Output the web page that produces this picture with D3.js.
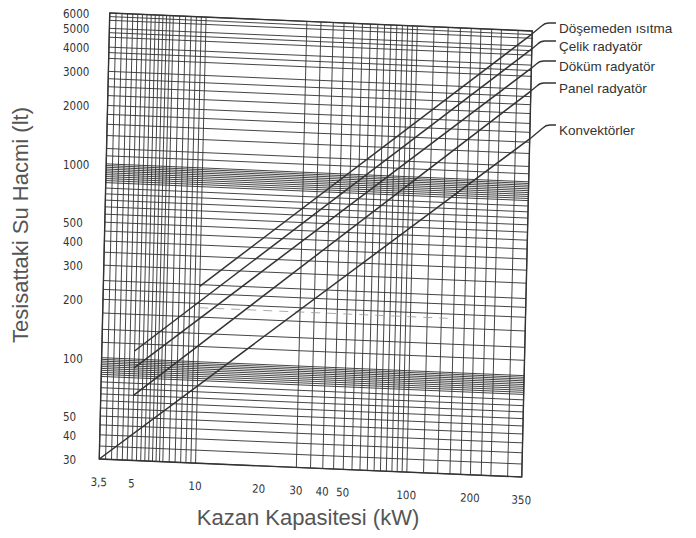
<!DOCTYPE html>
<html><head><meta charset="utf-8">
<script src="https://cdn.jsdelivr.net/npm/d3@7"></script>
<style>
html,body{margin:0;padding:0;background:#fff;}
svg{display:block;}
</style></head>
<body>
<svg id="chart" width="696" height="538"></svg>
<script>
// ---- data ----
const xTickValues = [3.5, 5, 10, 20, 30, 40, 50, 100, 200, 350];
const xTickLabels = ["3,5", "5", "10", "20", "30", "40", "50", "100", "200", "350"];
const yTickValues = [30, 40, 50, 100, 200, 300, 400, 500, 1000, 2000, 3000, 4000, 5000, 6000];
const yTickLabels = ["30", "40", "50", "100", "200", "300", "400", "500", "1000", "2000", "3000", "4000", "5000", "6000"];
const xGridValues = [3.5,3.75,4,4.25,4.5,4.75,5,5.25,5.5,5.75,6,6.25,6.5,6.75,7,7.5,8,8.5,9,9.5,10,
  30,35,40,45,50,55,60,65,70,75,80,85,90,95,100,120,140,160,180,200,225,250,300,350];
const yGridValues = [30,35,40,45,50,55,60,65,70,75,80,82,84,86,88,90,92,94,96,98,100,
  120,140,170,200,225,250,300,350,400,450,500,550,600,650,700,750,800,820,840,860,880,900,920,940,960,980,1000,
  1100,1200,1400,1600,1800,2000,2250,2500,2750,3000,3500,3750,4000,4500,4750,5000,5500,5750,6000];
const seriesNames = ["Döşemeden ısıtma", "Çelik radyatör", "Döküm radyatör", "Panel radyatör", "Konvektörler"];
const seriesX = [[10, 350], [5, 350], [5, 350], [5, 350], [3.5, 350]];
const seriesY = [[245, 5800], [110, 4850], [90, 3860], [65, 2940], [30, 1665]];
const labelY = [28, 46, 66, 88, 130];

// ---- layout ----
const W = 422.5, H = 446;
const svg = d3.select("#chart");
const x = d3.scaleLog().domain([3.5, 350]).range([0, W]);
const y = d3.scaleLog().domain([30, 6000]).range([H, 0]);
const ink = "#333";
const tx = (px, py) => [109.75 + px - 10.5 * py / H, 13 + 18 * px / W + py];

// plot group with slight skew/rotation like the scanned original
const g = svg.append("g").attr("transform", `matrix(1,${18/W},${-10.5/H},1,109.75,13)`);

g.append("g").selectAll("line").data(xGridValues).join("line")
  .attr("x1", d => x(d)).attr("x2", d => x(d)).attr("y1", 0).attr("y2", H)
  .attr("stroke", ink).attr("stroke-width", 0.9);
g.append("g").selectAll("line").data(yGridValues).join("line")
  .attr("x1", 0).attr("x2", W).attr("y1", d => y(d)).attr("y2", d => y(d))
  .attr("stroke", ink).attr("stroke-width", 0.9);
g.append("rect").attr("x", 0).attr("y", 0).attr("width", W).attr("height", H)
  .attr("fill", "none").attr("stroke", ink).attr("stroke-width", 1.4);
// faint dashed trace seen in the scan
g.append("line").attr("x1", x(10)).attr("x2", x(150)).attr("y1", y(190)).attr("y2", y(190))
  .attr("stroke", "#999").attr("stroke-width", 0.8).attr("stroke-dasharray", "9,7");

// series
const line = d3.line().x(d => x(d[0])).y(d => y(d[1]));
seriesNames.forEach((name, i) => {
  const pts = seriesX[i].map((v, j) => [v, seriesY[i][j]]);
  g.append("path").attr("d", line(pts)).attr("fill", "none").attr("stroke", ink).attr("stroke-width", 1.5);
});

// x tick labels
g.append("g").selectAll("text").data(xTickValues).join("text")
  .attr("x", d => x(d)).attr("y", H + 27)
  .attr("text-anchor", "middle").attr("font-family", "'Liberation Sans Narrow', 'DejaVu Sans Condensed', sans-serif")
  .attr("font-size", 11.5).attr("fill", ink)
  .text((d, i) => xTickLabels[i]);

// y tick labels (outside group)
svg.append("g").selectAll("text").data(yTickValues).join("text")
  .attr("x", 63).attr("y", d => 13 + y(d) + 5)
  .attr("text-anchor", "start").attr("font-family", "'Liberation Sans Narrow', 'DejaVu Sans Condensed', sans-serif")
  .attr("font-size", 11.5).attr("fill", ink)
  .text((d, i) => yTickLabels[i]);

// leaders and labels
seriesNames.forEach((name, i) => {
  const ly = labelY[i] - 5;
  const last = [seriesX[i][1], seriesY[i][1]];
  const [px, py] = tx(x(last[0]), y(last[1]));
  const ex = px + Math.max(0, (py - ly - 3)) * 1.2;
  svg.append("path").attr("d", `M${px},${py} L${ex},${ly + 3} Q${ex + 3},${ly} ${ex + 7},${ly} L556,${ly}`)
    .attr("fill", "none").attr("stroke", ink).attr("stroke-width", 1.3);
  svg.append("text").attr("x", 559).attr("y", labelY[i] + 5)
    .attr("font-family", "'Liberation Sans', Arial, sans-serif").attr("font-size", 13.5).attr("fill", ink)
    .text(name);
});

// axis titles
svg.append("text").attr("x", 308).attr("y", 525).attr("text-anchor", "middle")
  .attr("font-family", "'Liberation Sans', Arial, sans-serif").attr("font-size", 22).attr("fill", "#555")
  .text("Kazan Kapasitesi (kW)");
svg.append("text").attr("transform", "translate(28,225) rotate(-90)").attr("text-anchor", "middle")
  .attr("font-family", "'Liberation Sans', Arial, sans-serif").attr("font-size", 22).attr("fill", "#555")
  .text("Tesisattaki Su Hacmi (lt)");
</script>
</body></html>
